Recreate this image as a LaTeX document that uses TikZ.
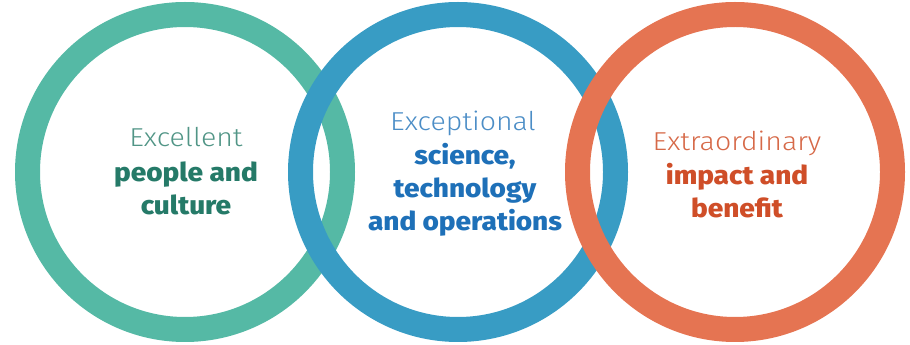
\documentclass[tikz,border=0pt]{standalone}
\usepackage{fontspec}
\setmainfont{Fira Sans}
\newfontfamily\ringlight{Fira Sans Light}[FakeStretch=1.1]
\newfontfamily\ringheavy{Fira Sans ExtraBold}[FakeStretch=1.08]
\usetikzlibrary{positioning}

\definecolor{ringgreen}{HTML}{55B9A5}
\definecolor{ringblue}{HTML}{389CC4}
\definecolor{ringorange}{HTML}{E57452}
\definecolor{textgreen}{HTML}{257A68}
\definecolor{textblue}{HTML}{1E70B8}
\definecolor{textorange}{HTML}{CF4E28}

\begin{document}
\begin{tikzpicture}[x=1bp,y=1bp,line join=bevel,
  ring/.style={line width=25bp},
  lighttext/.style={font=\ringlight\fontsize{26}{30}\selectfont,inner sep=0pt,align=center},
  heavytext/.style={font=\ringheavy\fontsize{26}{33}\selectfont,inner sep=0pt,align=center}]
%%
\useasboundingbox (0bp,0bp) rectangle (910bp,345bp);
\draw [ring,draw=ringgreen] (185bp,173bp) circle (157.5bp);
\draw [ring,draw=ringblue] (458bp,173bp) circle (157.5bp);
\draw [ring,draw=ringorange] (735bp,173bp) circle (157.5bp);
%
\node (head_0) at (186bp,208bp) [lighttext,text=textgreen!80!white] {Excellent};
  \node (body_0) at (186bp,157bp) [heavytext,text=textgreen] {people and\\culture};
\node (head_1) at (463bp,222bp) [lighttext,text=textblue!80!white] {Exceptional};
  \node (body_1) at (465bp,155bp) [heavytext,text=textblue] {science,\\technology\\and operations};
\node (head_2) at (737bp,202bp) [lighttext,text=textorange!85!white] {Extraordinary};
  \node (body_2) at (737bp,154bp) [heavytext,text=textorange] {impact and\\benefit};
%
\end{tikzpicture}
\end{document}
